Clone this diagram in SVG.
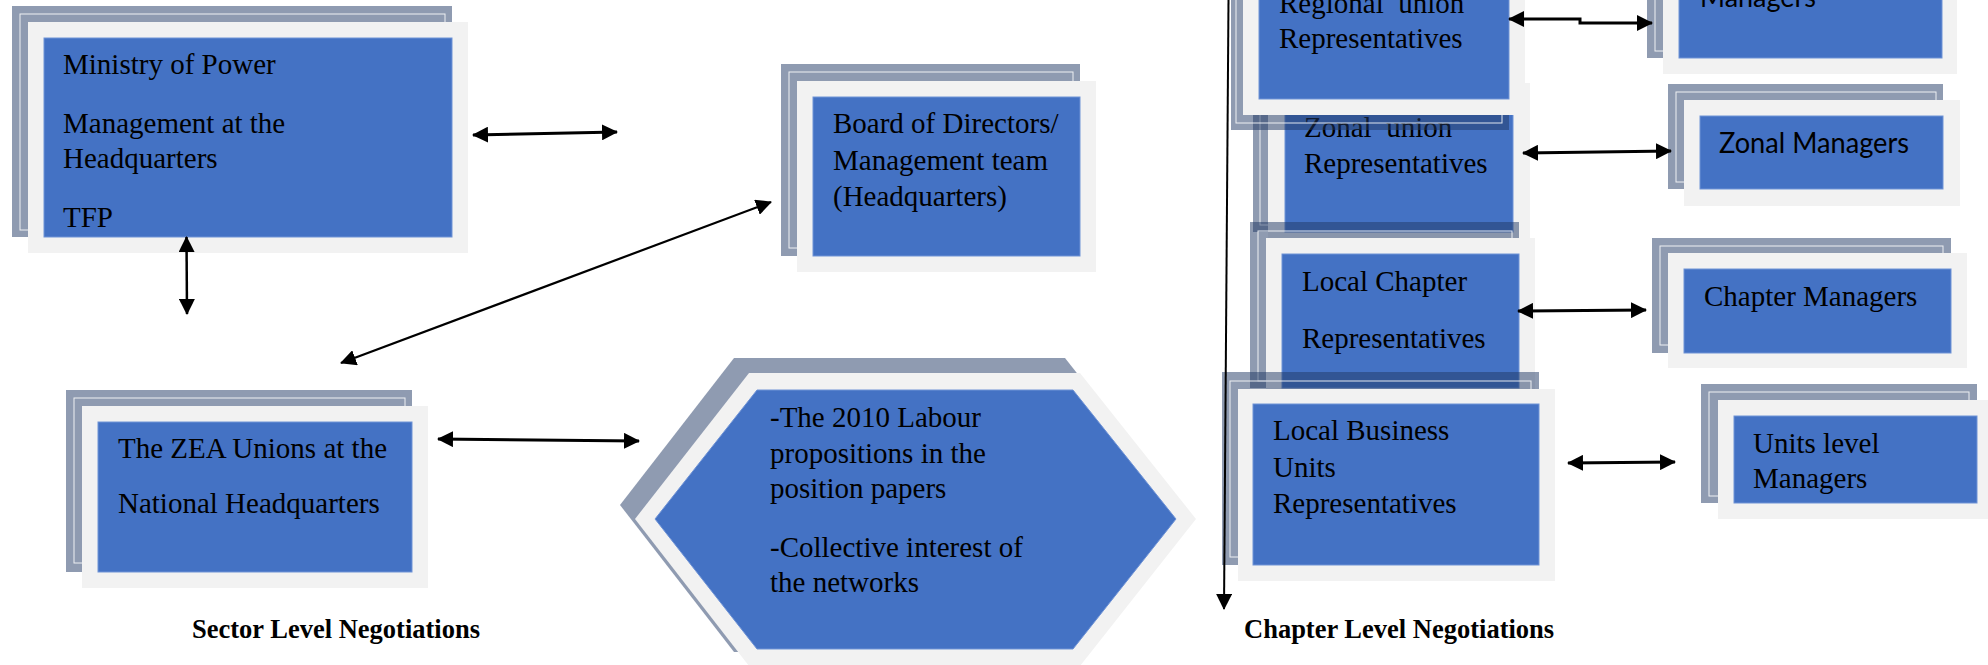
<svg xmlns="http://www.w3.org/2000/svg" width="1988" height="665" viewBox="0 0 1988 665">
<style>
.bk{fill:#1f3864;fill-opacity:.5}
.il{fill:none;stroke:#fff;stroke-width:1;stroke-opacity:.85}
.lt{fill:#f2f2f2}
.bl{fill:#4472c4;stroke:#6f93d6;stroke-width:1}
.t{font-family:"Liberation Serif","Times New Roman",serif;font-size:29px;fill:#000}
.s{font-family:Lato,"Liberation Sans",sans-serif;font-size:28px;fill:#000}
.b{font-family:"Liberation Serif","Times New Roman",serif;font-size:26.5px;font-weight:bold;fill:#000}
.c{fill:none;stroke:#000}
</style>
<defs>
<marker id="ah" viewBox="0 0 16 16" refX="15" refY="8" markerWidth="16" markerHeight="16" markerUnits="userSpaceOnUse" orient="auto-start-reverse"><path d="M0,0 L16,8 L0,16 z" fill="#000"/></marker>
</defs>

<g id="ministry">
<rect class="bk" x="12" y="6" width="440" height="231"/>
<rect class="il" x="20" y="14" width="425" height="216"/>
<rect class="lt" x="28" y="22" width="440" height="231"/>
<rect class="bl" x="44" y="38" width="408" height="199"/>
<text class="t" x="63" y="74">Ministry of Power</text>
<text class="t" x="63" y="133">Management at the</text>
<text class="t" x="63" y="168">Headquarters</text>
<text class="t" x="63" y="227">TFP</text>
</g>

<g id="board">
<rect class="bk" x="781" y="64" width="299" height="192"/>
<rect class="il" x="789" y="72" width="284" height="176"/>
<rect class="lt" x="797" y="81" width="299" height="191"/>
<rect class="bl" x="813" y="97" width="267" height="159"/>
<text class="t" x="833" y="133">Board of Directors/</text>
<text class="t" x="833" y="170">Management team</text>
<text class="t" x="833" y="206">(Headquarters)</text>
</g>

<g id="zea">
<rect class="bk" x="66" y="390" width="346" height="182"/>
<rect class="il" x="74" y="398" width="331" height="165"/>
<rect class="lt" x="82" y="406" width="346" height="182"/>
<rect class="bl" x="98" y="422" width="314" height="150"/>
<text class="t" x="118" y="458">The ZEA Unions at the</text>
<text class="t" x="118" y="513">National Headquarters</text>
</g>

<g id="propositions">
<polygon class="bk" points="734,358 1065,358 1181,505 1065,652 734,652 620,505"/>
<polygon class="lt" points="749,373 1080,373 1196,519 1080,666 749,666 635,519"/>
<polygon class="bl" points="757,390 1073,390 1176,519 1073,649 757,649 655,519"/>
<text class="t" x="770" y="427">-The 2010 Labour</text>
<text class="t" x="770" y="463">propositions in the</text>
<text class="t" x="770" y="498">position papers</text>
<text class="t" x="770" y="557">-Collective interest of</text>
<text class="t" x="770" y="592">the networks</text>
</g>

<g id="zonal-union">
<rect class="bk" x="1253" y="67" width="260" height="165"/>
<rect class="il" x="1260" y="74" width="246" height="151"/>
<rect class="lt" x="1268" y="83" width="262" height="165"/>
<rect class="bl" x="1285" y="99" width="228" height="133"/>
<text class="t" x="1304" y="137" xml:space="preserve">Zonal  union</text>
<text class="t" x="1304" y="173">Representatives</text>
</g>

<g id="regional-union">
<rect class="bk" x="1231" y="-40" width="278" height="170"/>
<rect class="il" x="1236" y="-40" width="266" height="163"/>
<rect class="lt" x="1243" y="-30" width="282" height="145"/>
<rect class="bl" x="1259" y="-20" width="250" height="119"/>
<text class="t" x="1279" y="13" xml:space="preserve">Regional  union</text>
<text class="t" x="1279" y="48">Representatives</text>
</g>

<g id="local-chapter">
<rect class="bk" x="1250" y="222" width="269" height="166"/>
<rect class="il" x="1258" y="231" width="254" height="150"/>
<rect class="lt" x="1266" y="238" width="269" height="166"/>
<rect class="bl" x="1282" y="254" width="237" height="134"/>
<text class="t" x="1302" y="291">Local Chapter</text>
<text class="t" x="1302" y="348">Representatives</text>
</g>

<g id="local-business">
<rect class="bk" x="1222" y="372" width="317" height="193"/>
<rect class="il" x="1230" y="381" width="301" height="176"/>
<rect class="lt" x="1238" y="389" width="317" height="192"/>
<rect class="bl" x="1253" y="404" width="286" height="161"/>
<text class="t" x="1273" y="440">Local Business</text>
<text class="t" x="1273" y="477">Units</text>
<text class="t" x="1273" y="513">Representatives</text>
</g>

<g id="regional-managers">
<rect class="bk" x="1647" y="-60" width="294" height="118"/>
<rect class="il" x="1655" y="-52" width="279" height="103"/>
<rect class="lt" x="1663" y="-44" width="294" height="118"/>
<rect class="bl" x="1679" y="-28" width="263" height="86"/>
<text class="s" x="1700" y="7" textLength="116" lengthAdjust="spacingAndGlyphs">Managers</text>
</g>

<g id="zonal-managers">
<rect class="bk" x="1668" y="84" width="275" height="105"/>
<rect class="il" x="1676" y="92" width="260" height="90"/>
<rect class="lt" x="1684" y="100" width="276" height="106"/>
<rect class="bl" x="1700" y="116" width="243" height="73"/>
<text class="s" x="1719" y="153" textLength="190" lengthAdjust="spacingAndGlyphs">Zonal Managers</text>
</g>

<g id="chapter-managers">
<rect class="bk" x="1652" y="238" width="299" height="115"/>
<rect class="il" x="1660" y="246" width="283" height="99"/>
<rect class="lt" x="1668" y="253" width="299" height="115"/>
<rect class="bl" x="1684" y="269" width="267" height="84"/>
<text class="t" x="1704" y="306">Chapter Managers</text>
</g>

<g id="units-managers">
<rect class="bk" x="1701" y="384" width="276" height="119"/>
<rect class="il" x="1709" y="392" width="260" height="104"/>
<rect class="lt" x="1718" y="400" width="276" height="119"/>
<rect class="bl" x="1734" y="416" width="243" height="87"/>
<text class="t" x="1753" y="453">Units level</text>
<text class="t" x="1753" y="488">Managers</text>
</g>

<g id="labels">
<text class="b" x="192" y="638">Sector Level Negotiations</text>
<text class="b" x="1244" y="638">Chapter Level Negotiations</text>
</g>

<g id="connectors">
<line class="c" stroke-width="3" x1="473" y1="135" x2="617" y2="132" marker-start="url(#ah)" marker-end="url(#ah)"/>
<line class="c" stroke-width="2.5" x1="186.5" y1="237" x2="187" y2="314" marker-start="url(#ah)" marker-end="url(#ah)"/>
<line class="c" stroke-width="2.2" x1="341" y1="363" x2="771" y2="202" marker-start="url(#ah)" marker-end="url(#ah)"/>
<line class="c" stroke-width="3" x1="438" y1="439" x2="639" y2="441" marker-start="url(#ah)" marker-end="url(#ah)"/>
<polyline class="c" stroke-width="3" points="1509,19 1580,19 1580,23 1652,23" marker-start="url(#ah)" marker-end="url(#ah)"/>
<line class="c" stroke-width="3" x1="1523" y1="153" x2="1671" y2="151" marker-start="url(#ah)" marker-end="url(#ah)"/>
<line class="c" stroke-width="3" x1="1518" y1="311" x2="1646" y2="310" marker-start="url(#ah)" marker-end="url(#ah)"/>
<line class="c" stroke-width="3" x1="1568" y1="463" x2="1675" y2="462" marker-start="url(#ah)" marker-end="url(#ah)"/>
<line class="c" stroke-width="2" x1="1228.5" y1="0" x2="1224" y2="609" marker-end="url(#ah)"/>
</g>
</svg>
